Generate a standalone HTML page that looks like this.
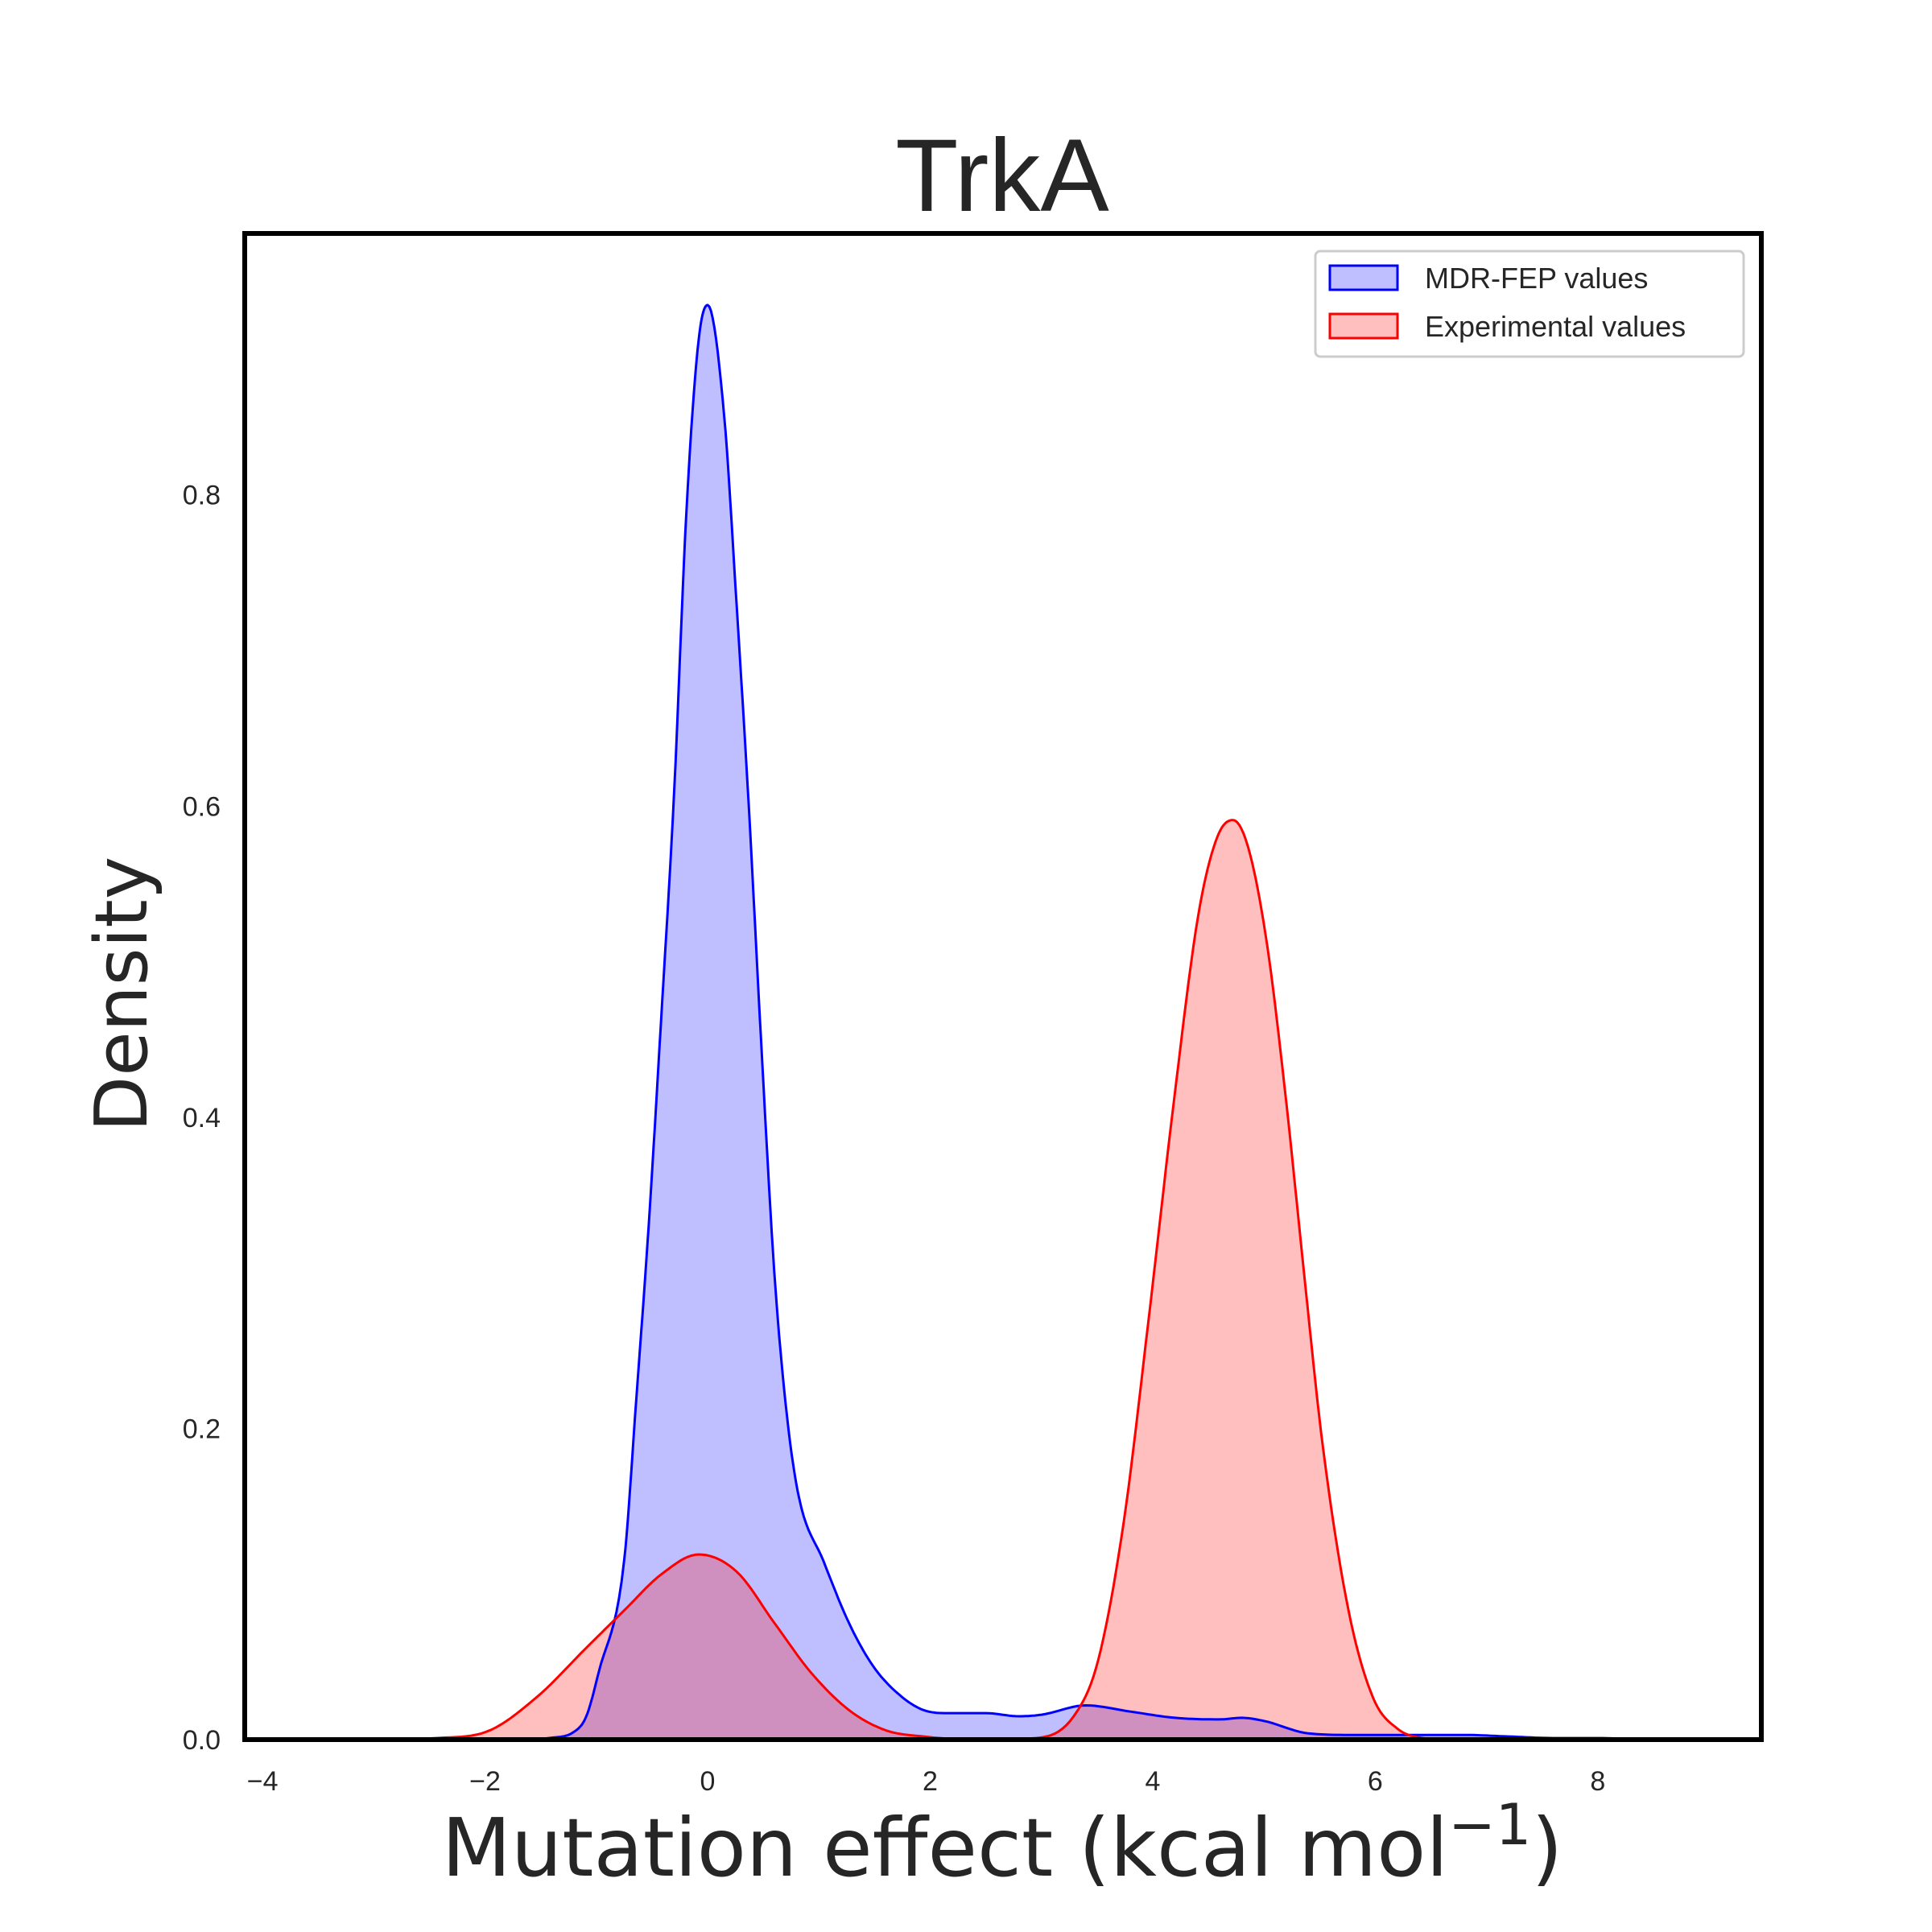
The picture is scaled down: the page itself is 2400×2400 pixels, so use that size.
<!DOCTYPE html>
<html><head><meta charset="utf-8"><style>
html,body{margin:0;padding:0;background:#fff}
svg{display:block;font-family:"Liberation Sans",sans-serif}
</style></head><body>
<svg id="chart" width="2400" height="2400" viewBox="0 0 2400 2400">
<text x="1245" y="262" font-size="128" fill="#262626" text-anchor="middle">TrkA</text>
<g id="fills"></g>
<g id="lines"></g>
<g id="ticks"></g>
<rect x="304" y="290" width="1884" height="1871" fill="none" stroke="#000" stroke-width="6"/>
<text x="1245" y="2330" font-size="100" fill="#262626" text-anchor="middle" style="font-family:'DejaVu Sans',sans-serif">Mutation effect (kcal mol<tspan dy="-39" font-size="70">−1</tspan><tspan dy="39">)</tspan></text>
<text transform="translate(182,1235) rotate(-90)" font-size="90" fill="#262626" text-anchor="middle" style="font-family:'DejaVu Sans',sans-serif">Density</text>
<g>
<rect x="1634" y="312" width="532" height="131" fill="#fff" stroke="#ccc" stroke-width="3" rx="6"/>
<rect x="1652" y="330" width="84" height="30" fill="rgba(0,0,255,0.25)" stroke="#00f" stroke-width="3"/>
<text x="1770" y="358" font-size="36" fill="#262626">MDR-FEP values</text>
<rect x="1652" y="390" width="84" height="30" fill="rgba(255,0,0,0.25)" stroke="#f00" stroke-width="3"/>
<text x="1770" y="418" font-size="36" fill="#262626">Experimental values</text>
</g>
</svg>
<script>
const blueX=[-1.8,-1.6,-1.43,-1.2,-1.09,-0.98,-0.75,-0.64,-0.53,-0.42,-0.3,-0.19,-0.08,0,0.15,0.26,0.37,0.48,0.6,0.71,0.82,1.04,1.27,1.49,1.72,1.94,2.17,2.5,2.8,3.0,3.4,3.8,4.2,4.6,4.8,5.0,5.4,5.8,6.2,6.8,7.2,7.6,8.0,8.4];
const blueY=[0,0,0.001,0.005,0.015,0.043,0.115,0.22,0.33,0.46,0.61,0.79,0.9,0.922,0.85,0.73,0.6,0.45,0.3,0.21,0.156,0.115,0.075,0.047,0.029,0.019,0.017,0.017,0.015,0.016,0.022,0.018,0.014,0.013,0.014,0.012,0.004,0.003,0.003,0.003,0.002,0.001,0.001,0];
const redX=[-2.8,-2.44,-1.99,-1.54,-1.09,-0.75,-0.42,-0.08,0.26,0.6,0.93,1.27,1.6,1.94,2.4,2.95,3.29,3.51,3.74,3.96,4.19,4.41,4.58,4.72,4.86,5.03,5.2,5.36,5.53,5.76,5.98,6.2,6.43,6.7];
const redY=[0,0.001,0.005,0.027,0.059,0.083,0.106,0.119,0.108,0.075,0.043,0.019,0.006,0.002,0,0.001,0.015,0.051,0.14,0.268,0.41,0.53,0.58,0.591,0.573,0.51,0.41,0.3,0.188,0.083,0.027,0.007,0.001,0];
const xTicks=[-4,-2,0,2,4,6,8];
const yTicks=[0,0.2,0.4,0.6,0.8];
const yTickLabels=["0.0","0.2","0.4","0.6","0.8"];
const xTickLabels=["−4","−2","0","2","4","6","8"];
const X0=-4.16,X1=9.47,Y0=0,Y1=0.968,L=304,R=2188,T=290,B=2161;
function sx(v){return L+(v-X0)/(X1-X0)*(R-L);}
function sy(v){return B-(v-Y0)/(Y1-Y0)*(B-T);}
const NS="http://www.w3.org/2000/svg";
function mk(tag,attrs,parent){const e=document.createElementNS(NS,tag);for(const k in attrs)e.setAttribute(k,attrs[k]);parent.appendChild(e);return e;}
function monotone(xs,ys){
  const n=xs.length,d=[],m=new Array(n);
  for(let i=0;i<n-1;i++)d.push((ys[i+1]-ys[i])/(xs[i+1]-xs[i]));
  m[0]=d[0];m[n-1]=d[n-2];
  for(let i=1;i<n-1;i++){m[i]=(d[i-1]*d[i]<=0)?0:(d[i-1]+d[i])/2;}
  for(let i=0;i<n-1;i++){if(d[i]===0){m[i]=0;m[i+1]=0;continue;}const a=m[i]/d[i],b=m[i+1]/d[i],s=a*a+b*b;if(s>9){const t=3/Math.sqrt(s);m[i]=t*a*d[i];m[i+1]=t*b*d[i];}}
  const pts=[];
  for(let i=0;i<n-1;i++){const h=xs[i+1]-xs[i];for(let k=0;k<10;k++){const t=k/10,t2=t*t,t3=t2*t;
    const y=(2*t3-3*t2+1)*ys[i]+(t3-2*t2+t)*h*m[i]+(-2*t3+3*t2)*ys[i+1]+(t3-t2)*h*m[i+1];
    pts.push([xs[i]+t*h,Math.max(0,y)]);}}
  pts.push([xs[n-1],ys[n-1]]);return pts;
}
function series(xs,ys,col,fillCol,name){
  const pts=monotone(xs,ys);
  let d="M"+pts.map(p=>sx(p[0]).toFixed(1)+","+sy(p[1]).toFixed(1)).join(" L");
  const f=mk("path",{d:d+" L"+sx(xs[xs.length-1])+","+sy(0)+" L"+sx(xs[0])+","+sy(0)+" Z",fill:fillCol,stroke:"none"},document.getElementById("fills"));
  
  
  const l=mk("path",{d:d,fill:"none",stroke:col,"stroke-width":3,"stroke-linejoin":"round"},document.getElementById("lines"));
  
  
}
series(blueX,blueY,"#00f","rgba(0,0,255,0.25)","mdr-fep");
series(redX,redY,"#f00","rgba(255,0,0,0.25)","experimental");
const tg=document.getElementById("ticks");
xTicks.forEach((v,i)=>{const t=mk("text",{x:sx(v),y:2224,"font-size":34,fill:"#262626","text-anchor":"middle"},tg);t.textContent=xTickLabels[i];
  
  });
yTicks.forEach((v,i)=>{const t=mk("text",{x:274,y:sy(v)+12,"font-size":34,fill:"#262626","text-anchor":"end"},tg);t.textContent=yTickLabels[i];
  
  });
</script>
</body></html>
